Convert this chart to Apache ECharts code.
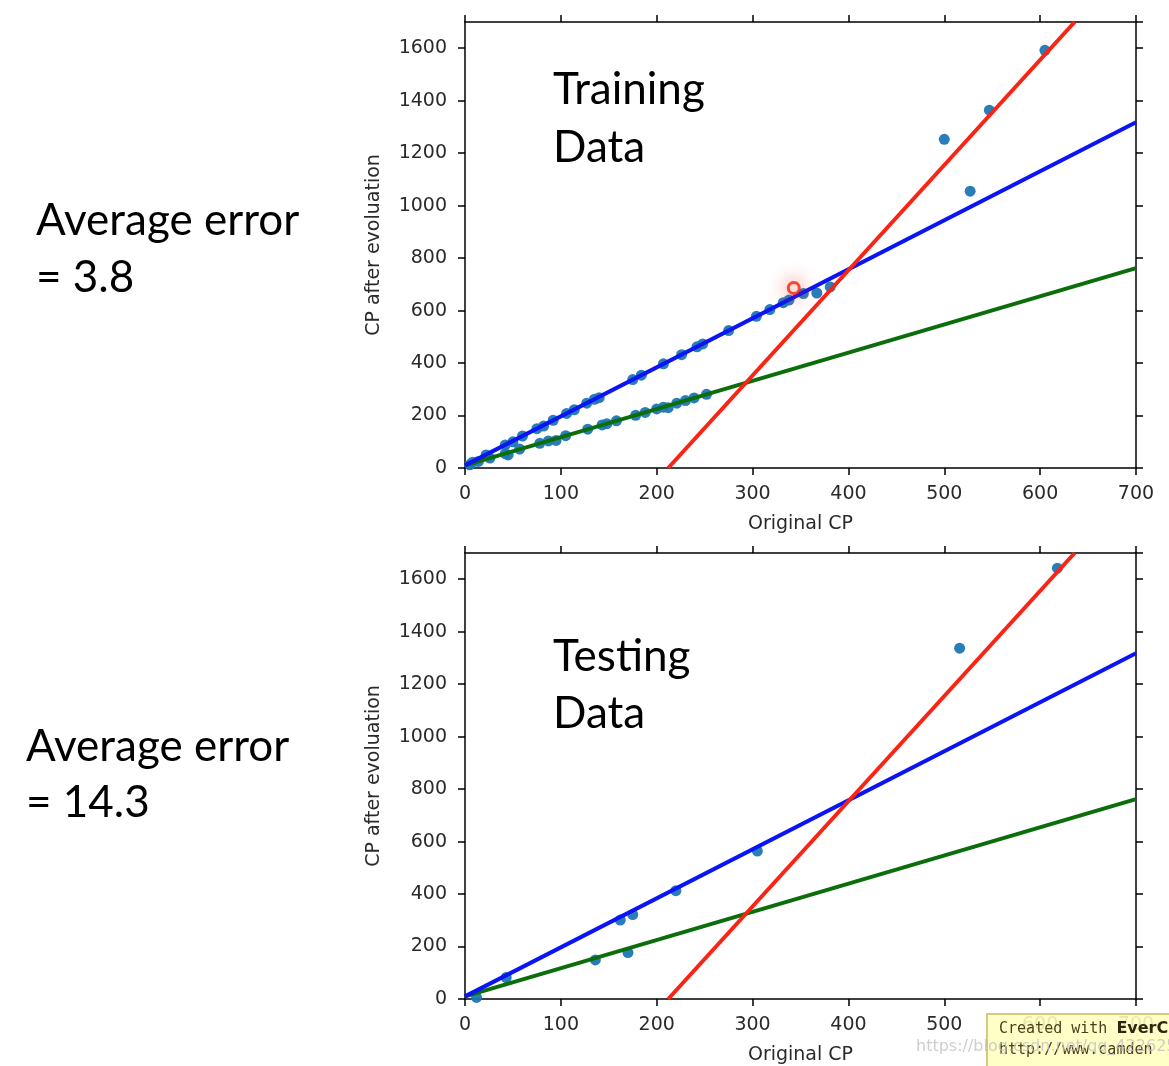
<!DOCTYPE html>
<html>
<head>
<meta charset="utf-8">
<style>
  html, body { margin: 0; padding: 0; background: #ffffff; }
  #chart { width: 1169px; height: 1066px; }
</style>
<script src="https://cdn.jsdelivr.net/npm/echarts@6/dist/echarts.min.js"></script>
</head>
<body>
<div id="chart"></div>
<script>
// ---- data ----
const xTicks = [0, 100, 200, 300, 400, 500, 600, 700];
const yTicks = [0, 200, 400, 600, 800, 1000, 1200, 1400, 1600];

const trainCP = [8, 22, 42, 50, 60, 75, 82, 92, 106, 114, 127, 135, 140, 175, 184, 207, 226, 242, 248, 275, 304, 318, 332, 338, 353, 367, 381, 500, 527, 547, 605,
                 5, 14, 26, 42, 45, 57, 78, 87, 95, 105, 128, 143, 148, 158, 178, 188, 200, 207, 212, 221, 230, 239, 252];
const trainEvolved = [22, 50, 88, 100, 122, 150, 160, 182, 208, 222, 247, 262, 268, 337, 354, 397, 432, 462, 473, 524, 578, 604, 630, 640, 665, 667, 690, 1253, 1055, 1364, 1592,
                      12, 25, 38, 55, 50, 72, 94, 103, 105, 123, 148, 164, 169, 180, 201, 212, 225, 232, 230, 247, 257, 267, 281];

const highlightCP = [343];
const highlightEvolved = [686];

const testCP = [12, 43, 136, 162, 170, 175, 220, 305, 516, 618];
const testEvolved = [6, 82, 149, 301, 177, 322, 413, 564, 1337, 1642];

const blueFitX = [0, 700];
const blueFitY = [10, 1318];
const greenFitX = [0, 700];
const greenFitY = [10, 762];
const redFitX = [212, 636];
const redFitY = [0, 1700];

const panelTitles = ['Training\nData', 'Testing\nData'];
const errorTexts = ['Average error\n= 3.8', 'Average error\n= 14.3'];

// ---- helpers ----
const pairs = (xs, ys) => xs.map((x, i) => [x, ys[i]]);

const tickFont = { fontFamily: 'DejaVu Sans', fontSize: 19, color: '#2a2a2a', formatter: v => String(v) };

function mainX(gi) {
  return {
    type: 'value', gridIndex: gi, position: 'bottom', min: xTicks[0], max: xTicks[xTicks.length - 1], interval: 100,
    name: 'Original CP', nameLocation: 'middle', nameGap: 47,
    nameTextStyle: { fontFamily: 'DejaVu Sans', fontSize: 19, color: '#2a2a2a' },
    axisLine: { show: true, onZero: false, lineStyle: { color: '#000', width: 1.5 } },
    axisTick: { show: true, inside: false, length: 7, lineStyle: { color: '#000', width: 1.5 } },
    axisLabel: Object.assign({ margin: 17 }, tickFont),
    splitLine: { show: false }
  };
}
function topX(gi) {
  return {
    type: 'value', gridIndex: gi, position: 'top', min: xTicks[0], max: xTicks[xTicks.length - 1], interval: 100,
    axisLine: { show: true, onZero: false, lineStyle: { color: '#000', width: 1.5 } },
    axisTick: { show: true, inside: false, length: 7, lineStyle: { color: '#000', width: 1.5 } },
    axisLabel: { show: false }, splitLine: { show: false }
  };
}
function mainY(gi) {
  return {
    type: 'value', gridIndex: gi, position: 'left', min: yTicks[0], max: 1700, interval: 200,
    name: 'CP after evoluation', nameLocation: 'middle', nameGap: 81,
    nameTextStyle: { fontFamily: 'DejaVu Sans', fontSize: 19, color: '#2a2a2a' },
    axisLine: { show: true, onZero: false, lineStyle: { color: '#000', width: 1.5 } },
    axisTick: { show: true, inside: false, length: 7, lineStyle: { color: '#000', width: 1.5 } },
    axisLabel: Object.assign({ margin: 18, showMaxLabel: false }, tickFont),
    splitLine: { show: false }
  };
}
function rightY(gi) {
  return {
    type: 'value', gridIndex: gi, position: 'right', min: yTicks[0], max: 1700, interval: 200,
    axisLine: { show: true, onZero: false, lineStyle: { color: '#000', width: 1.5 } },
    axisTick: { show: true, inside: false, length: 7, lineStyle: { color: '#000', width: 1.5 } },
    axisLabel: { show: false }, splitLine: { show: false }
  };
}

function fitLine(xi, yi, xs, ys, color) {
  return {
    type: 'line', xAxisIndex: xi, yAxisIndex: yi, data: pairs(xs, ys),
    symbol: 'none', clip: true, z: 3, silent: true,
    lineStyle: { color: color, width: 4 }
  };
}
function scatter(xi, yi, xs, ys) {
  return {
    type: 'scatter', xAxisIndex: xi, yAxisIndex: yi, data: pairs(xs, ys),
    symbol: 'circle', symbolSize: 11, z: 2, silent: true,
    itemStyle: { color: '#1f77b4', opacity: 0.95 }
  };
}

const chart = echarts.init(document.getElementById('chart'), null, { renderer: 'canvas' });

const option = {
  animation: false,
  backgroundColor: '#ffffff',
  grid: [
    { left: 465, top: 22, width: 671, height: 446 },
    { left: 465, top: 553, width: 671, height: 446 }
  ],
  xAxis: [mainX(0), topX(0), mainX(1), topX(1)],
  yAxis: [mainY(0), rightY(0), mainY(1), rightY(1)],
  series: [
    scatter(0, 0, trainCP, trainEvolved),
    fitLine(0, 0, greenFitX, greenFitY, '#0b6e0b'),
    fitLine(0, 0, blueFitX, blueFitY, '#0a14f5'),
    fitLine(0, 0, redFitX, redFitY, '#fa2414'),
    {
      type: 'scatter', xAxisIndex: 0, yAxisIndex: 0, data: pairs(highlightCP, highlightEvolved),
      symbol: 'circle', symbolSize: 11, z: 5, silent: true,
      itemStyle: { color: '#fff3e8', borderColor: '#f5200a', borderWidth: 3, shadowBlur: 18, shadowColor: 'rgba(245,60,40,0.75)' }
    },
    scatter(2, 2, testCP, testEvolved),
    fitLine(2, 2, greenFitX, greenFitY, '#0b6e0b'),
    fitLine(2, 2, blueFitX, blueFitY, '#0a14f5'),
    fitLine(2, 2, redFitX, redFitY, '#fa2414')
  ],
  graphic: [
    { type: 'text', left: 553, top: 61, z: 10,
      style: { text: panelTitles[0], font: '44px Lato', fill: '#000', lineHeight: 58 } },
    { type: 'text', left: 553, top: 628, z: 10,
      style: { text: panelTitles[1], font: '44px Lato', fill: '#000', lineHeight: 57 } },
    { type: 'text', left: 36, top: 192, z: 10,
      style: { text: errorTexts[0], font: '44px Lato', fill: '#000', lineHeight: 57 } },
    { type: 'text', left: 26, top: 719, z: 10,
      style: { text: errorTexts[1], font: '44px Lato', fill: '#000', lineHeight: 56 } },
    { type: 'rect', shape: { x: 987, y: 1014, width: 190, height: 54 }, z: 20,
      style: { fill: 'rgba(255,255,190,0.88)', stroke: '#c9b860', lineWidth: 1.5 } },
    { type: 'text', x: 999, y: 1021, z: 21,
      style: { text: '{a|Created with }{b|EverC}', fill: '#4a3f1c',
        rich: { a: { font: '15px "DejaVu Sans Mono"', fill: '#4a3f1c' }, b: { font: 'bold 16px "DejaVu Sans"', fill: '#2e2610' } } } },
    { type: 'text', x: 999, y: 1043, z: 21,
      style: { text: 'http://www.camden', font: '15px "DejaVu Sans Mono"', fill: '#4a3f1c' } },
    { type: 'text', x: 916, y: 1039, z: 22,
      style: { text: 'https://blog.csdn.net/qq_42262553', font: '16px "DejaVu Sans"', fill: 'rgba(190,190,190,0.75)' } }
  ]
};
chart.setOption(option);
</script>
</body>
</html>
